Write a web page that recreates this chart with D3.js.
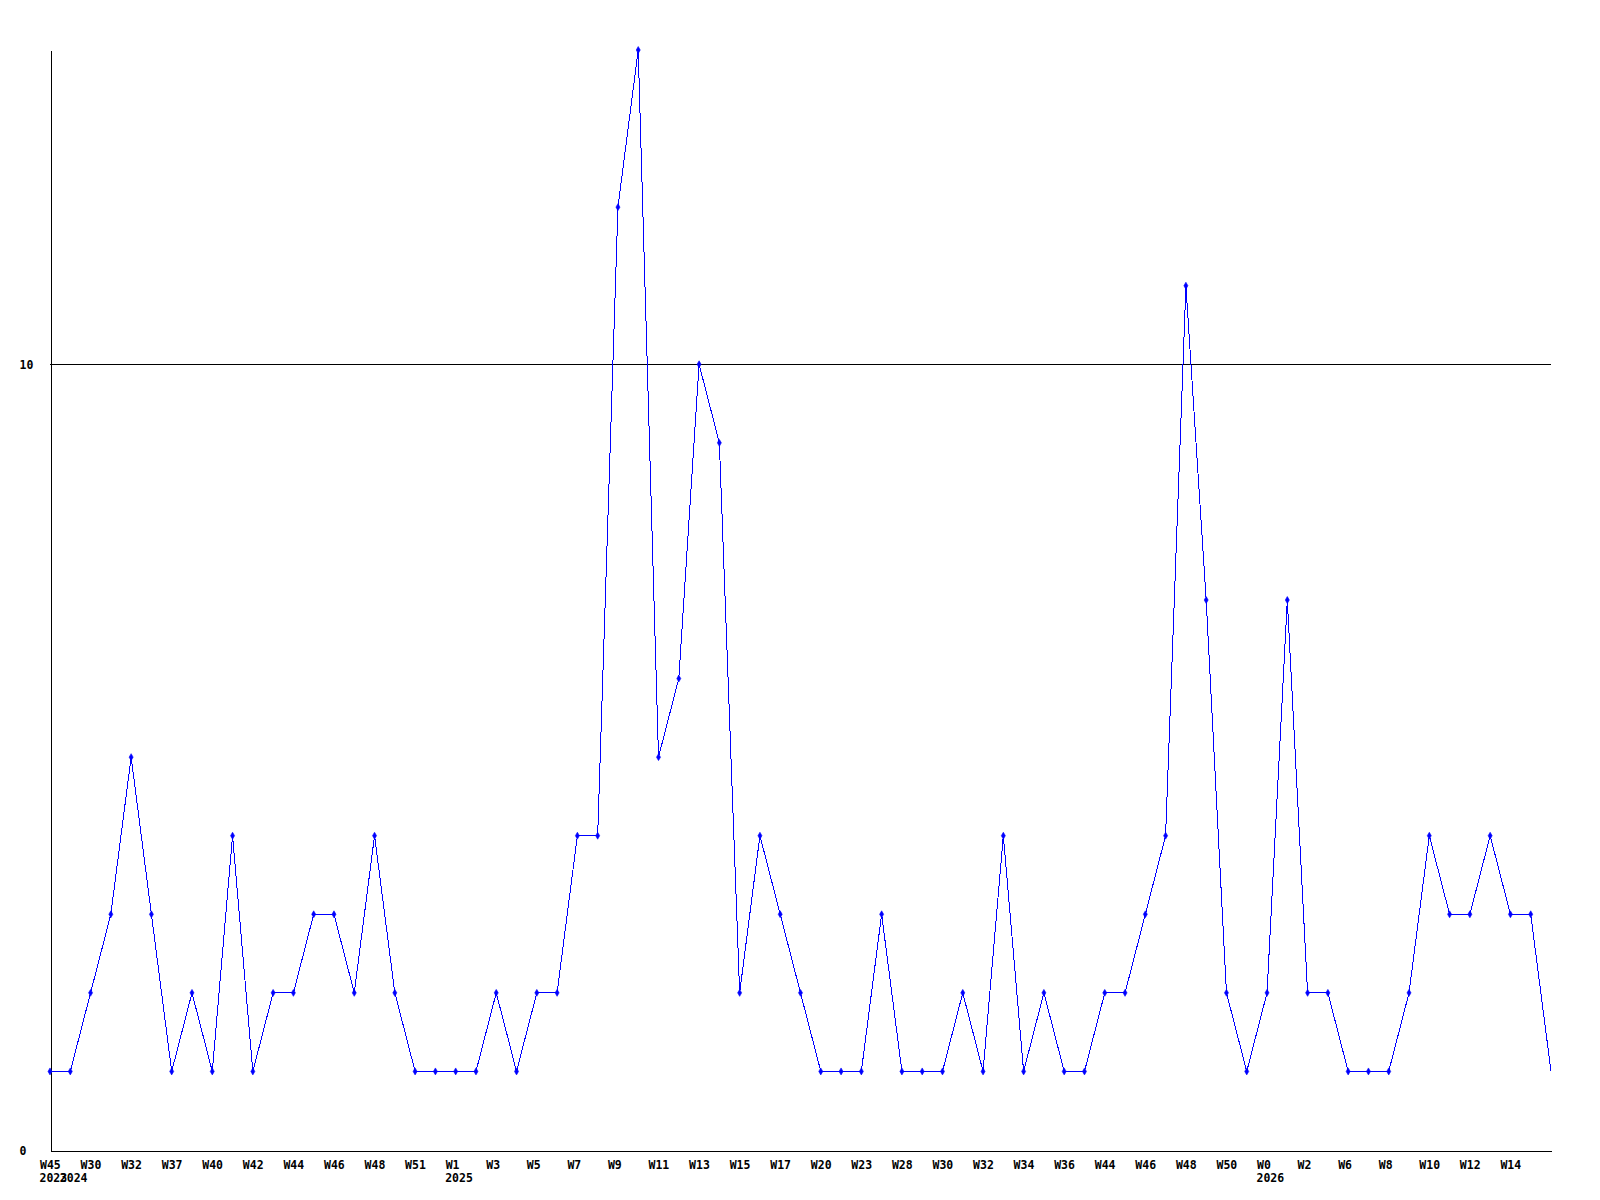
<!DOCTYPE html>
<html>
<head>
<meta charset="utf-8">
<script src="https://cdn.jsdelivr.net/npm/d3@7"></script>
<style>
  body { margin: 0; background: #fff; }
  text { font-family: "DejaVu Sans Mono", monospace; font-weight: bold; font-size: 11.5px; fill: #000; }
</style>
</head>
<body>
<div id="chart"></div>
<script>
// weekly counts, one per point
var values = [1, 1, 2, 3, 5, 3, 1, 2, 1, 4,
              1, 2, 2, 3, 3, 2, 4, 2, 1, 1,
              1, 1, 2, 1, 2, 2, 4, 4, 12, 14,
              5, 6, 10, 9, 2, 4, 3, 2, 1, 1,
              1, 3, 1, 1, 1, 2, 1, 4, 1, 2,
              1, 1, 2, 2, 3, 4, 11, 7, 2, 1,
              2, 7, 2, 2, 1, 1, 1, 2, 4, 3,
              3, 4, 3, 3, 1];

// labels shown on every second point
var weekLabels = ["W45", "W30", "W32", "W37", "W40", "W42", "W44", "W46", "W48", "W51",
                  "W1", "W3", "W5", "W7", "W9", "W11", "W13", "W15", "W17", "W20",
                  "W23", "W28", "W30", "W32", "W34", "W36", "W44", "W46", "W48", "W50",
                  "W0", "W2", "W6", "W8", "W10", "W12", "W14"];

// year and the point where it starts
var years = ["2023", "2024", "2025", "2026"];
var yearStart = [0, 1, 20, 60];

var yTicks = [0, 10];

var width = 1600, height = 1200;
var margin = {left: 50, right: 1551, top: 50, bottom: 1150};

var svg = d3.select("#chart").append("svg")
  .attr("width", width)
  .attr("height", height);

var x = d3.scaleLinear()
  .domain([0, values.length - 1])
  .range([margin.left, margin.right]);

var y = d3.scaleLinear()
  .domain([0, d3.max(values)])
  .range([margin.bottom, margin.top]);

// reference line at 10
svg.append("line")
  .attr("x1", margin.left).attr("x2", margin.right)
  .attr("y1", Math.floor(y(10)) + 0.5).attr("y2", Math.floor(y(10)) + 0.5)
  .attr("stroke", "#000")
  .attr("shape-rendering", "crispEdges");

// y axis
var yAxis = svg.append("g")
  .attr("transform", "translate(" + (margin.left + 0.5) + ",0)")
  .call(d3.axisLeft(y).tickValues(yTicks).tickSize(0).tickPadding(0).tickFormat(d3.format("d")));
yAxis.select(".domain").attr("stroke", "#000").attr("shape-rendering", "crispEdges");
yAxis.selectAll("text")
  .attr("text-anchor", "start")
  .attr("x", 19 - margin.left)
  .attr("dy", "0.35em");

// x axis
var xAxis = svg.append("g")
  .attr("transform", "translate(0," + (margin.bottom + 0.5) + ")")
  .call(d3.axisBottom(x)
    .tickValues(d3.range(0, weekLabels.length).map(function(i) { return i * 2; }))
    .tickSize(0)
    .tickFormat(function(d) { return weekLabels[d / 2]; }));
xAxis.select(".domain").attr("stroke", "#000").attr("shape-rendering", "crispEdges");
xAxis.selectAll("text")
  .attr("text-anchor", "start")
  .attr("x", -10.5)
  .attr("y", 18)
  .attr("dy", 0);

svg.append("g")
  .selectAll("text")
  .data(years)
  .join("text")
    .attr("x", function(d, i) { return x(yearStart[i]) - 10.5; })
    .attr("y", margin.bottom + 32)
    .text(function(d) { return d; });

// series line
var line = d3.line()
  .x(function(d, i) { return x(i); })
  .y(function(d) { return y(d); });

svg.append("path")
  .datum(values)
  .attr("fill", "none")
  .attr("stroke", "#0000ff")
  .attr("stroke-width", 1)
  .attr("shape-rendering", "crispEdges")
  .attr("d", line);

// point markers (last week has none)
svg.append("g")
  .selectAll("path")
  .data(values.slice(0, values.length - 1))
  .join("path")
    .attr("transform", function(d, i) { return "translate(" + x(i) + "," + y(d) + ")"; })
    .attr("d", d3.symbol(d3.symbolDiamond).size(14))
    .attr("fill", "#0000ff")
    .attr("stroke", "#0000ff")
    .attr("stroke-width", 0.6);
</script>
</body>
</html>
